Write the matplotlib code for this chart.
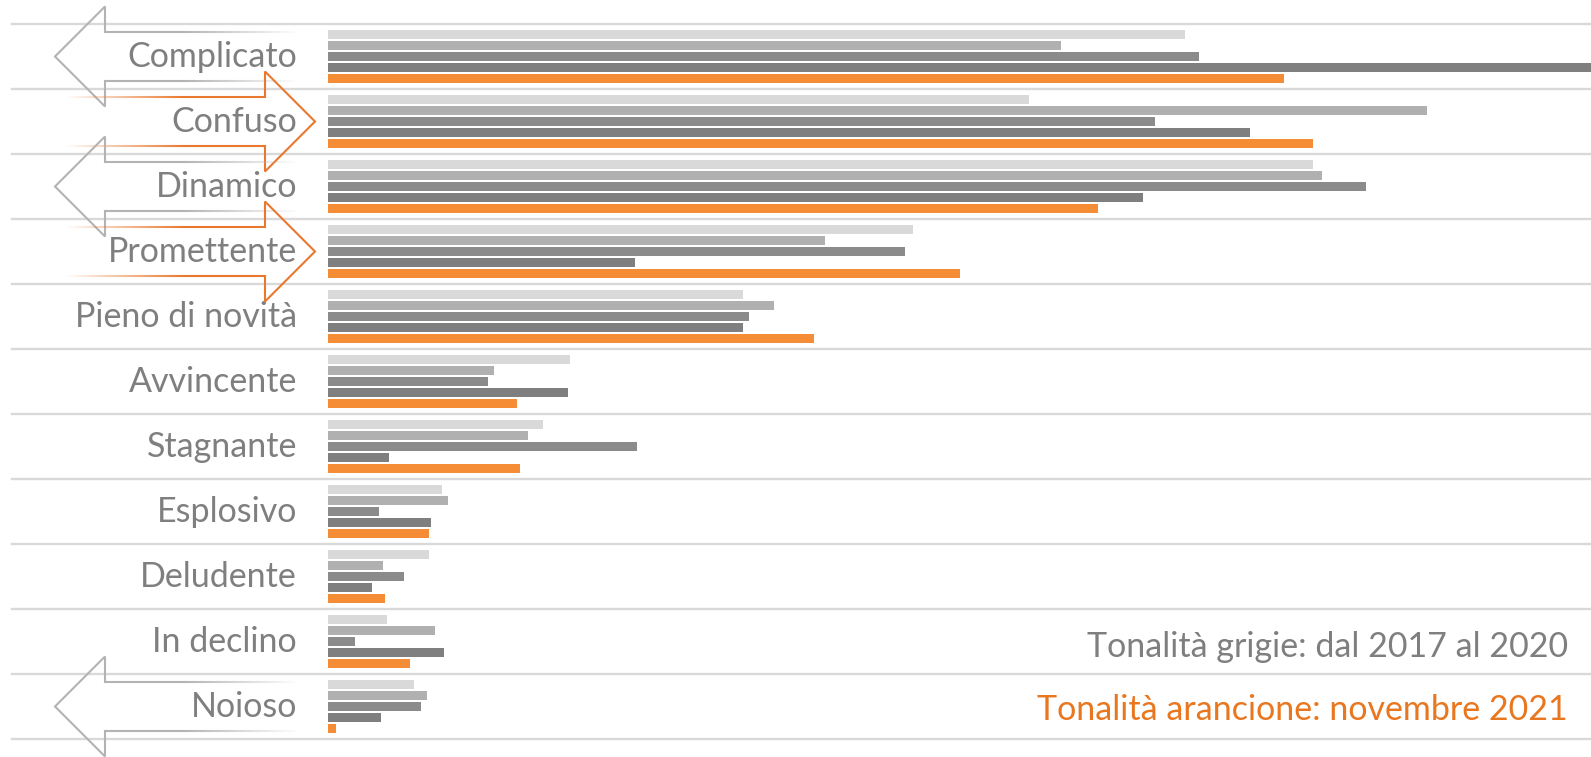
import numpy as np
import matplotlib
matplotlib.use("Agg")
import matplotlib.pyplot as plt
from matplotlib.collections import LineCollection
from matplotlib.transforms import IdentityTransform, ScaledTranslation, blended_transform_factory

plt.rcParams['font.family'] = ['Lato', 'DejaVu Sans']

# categories, top to bottom
categories = ["Complicato", "Confuso", "Dinamico", "Promettente", "Pieno di novità",
              "Avvincente", "Stagnante", "Esplosivo", "Deludente", "In declino", "Noioso"]

# four grey years (2017-2020) and november 2021
y2017 = [40.7, 33.3, 46.8, 27.8, 19.7, 11.5, 10.2, 5.4, 4.8, 2.8, 4.1]
y2018 = [34.8, 52.2, 47.2, 23.6, 21.2, 7.9, 9.5, 5.7, 2.6, 5.1, 4.7]
y2019 = [41.4, 39.3, 49.3, 27.4, 20.0, 7.6, 14.7, 2.4, 3.6, 1.3, 4.4]
y2020 = [64.0, 43.8, 38.7, 14.6, 19.7, 11.4, 2.9, 4.9, 2.1, 5.5, 2.5]
nov2021 = [45.4, 46.8, 36.6, 30.0, 23.1, 9.0, 9.1, 4.8, 2.7, 3.9, 0.4]

series = [y2017, y2018, y2019, y2020, nov2021]
colors = ['#d9d9d9', '#b0b0b0', '#8b8b8b', '#7f7f7f', '#f58d37']

# arrow direction next to some labels: 'L' grey (down), 'R' orange (up)
arrows = {0: 'L', 1: 'R', 2: 'L', 3: 'R', 10: 'L'}

W, H = 1591, 757
fig = plt.figure(figsize=(W / 100, H / 100), dpi=100)
ax = fig.add_axes([328 / W, 18 / H, 1 - 328 / W, 715 / H])

n = len(categories)
idx = np.arange(n)
pitch = 0.169
for k, (vals, c) in enumerate(zip(series, colors)):
    ax.barh(idx + (k - 2) * pitch, vals, height=0.15, color=c, zorder=2)

ax.set_xlim(0, 60)
ax.set_ylim(n - 0.5, -0.5)
for s in ax.spines.values():
    s.set_visible(False)
ax.set_xticks([])
ax.set_yticks([])

# horizontal separators, running out past the labels
tr = blended_transform_factory(ax.transAxes, ax.transData)
x0 = (12 - 328) / (W - 328)
for b in np.arange(-0.5, n, 1.0):
    ax.plot([x0, 1], [b, b], color='#d9d9d9', lw=1.7, transform=tr, clip_on=False, zorder=1)

# category labels
lab_x = (297 - 328) / (W - 328)
shift = ScaledTranslation(0, -0.105, fig.dpi_scale_trans)
for i, name in enumerate(categories):
    ax.text(lab_x, i, name, transform=tr + shift, ha='right', va='baseline',
            fontsize=24.5, color='#7f7f7f', fontweight='normal', zorder=4)


def draw_arrow(i, direction):
    cy = ax.transData.transform((0, i))[1]
    hh, sh = 50, 24.5
    if direction == 'L':
        tip, base, tail, col = 55, 105, 300, (0.70, 0.70, 0.70)
    else:
        tip, base, tail, col = 315, 265, 65, (0.91, 0.47, 0.18)
    head = [(base, cy + sh), (base, cy + hh), (tip, cy), (base, cy - hh), (base, cy - sh)]
    hx, hy = zip(*head)
    fig.add_artist(plt.Line2D(hx, hy, color=col, lw=1.5, transform=IdentityTransform(),
                              solid_joinstyle='miter', zorder=3))
    # shaft edges: solid next to the head, then fading out
    xs = np.linspace(base, tail, 100)
    t = np.linspace(0, 1, len(xs) - 1)
    alph = np.clip((1 - t) / 0.6, 0, 1)
    for yy in (cy + sh, cy - sh):
        segs = [[(xs[j], yy), (xs[j + 1], yy)] for j in range(len(xs) - 1)]
        cols = [(col[0], col[1], col[2], a) for a in alph]
        fig.add_artist(LineCollection(segs, colors=cols, linewidths=1.5,
                                      transform=IdentityTransform(), zorder=3))


for i, d in arrows.items():
    draw_arrow(i, d)

fig.text(1568 / W, 1 - 657 / H, "Tonalità grigie: dal 2017 al 2020", ha='right', va='baseline',
         fontsize=24.5, color='#7f7f7f', fontweight='normal')
fig.text(1568 / W, 1 - 720 / H, "Tonalità arancione: novembre 2021", ha='right', va='baseline',
         fontsize=24.5, color='#e8771f', fontweight='normal')

fig.savefig("out.png", dpi=100, facecolor='white')
